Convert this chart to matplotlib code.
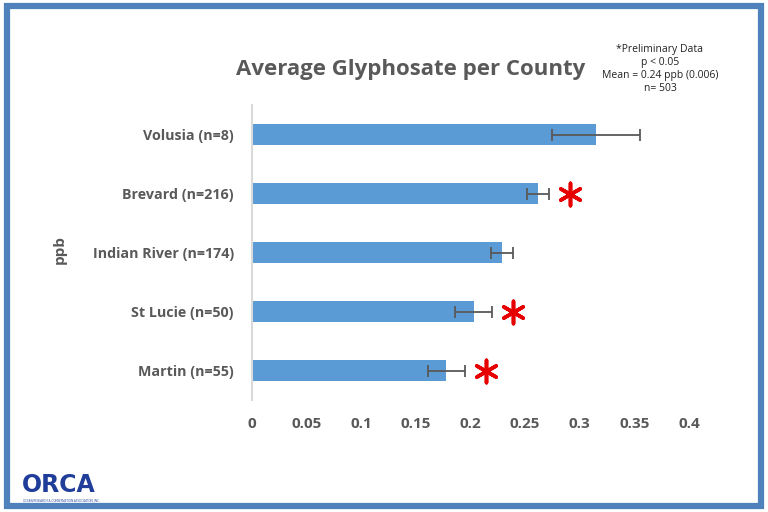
import matplotlib.pyplot as plt
from matplotlib.patches import Rectangle

counties = ["Volusia (n=8)", "Brevard (n=216)", "Indian River (n=174)",
            "St Lucie (n=50)", "Martin (n=55)"]
means = [0.315, 0.262, 0.229, 0.203, 0.178]
errs = [0.040, 0.010, 0.010, 0.017, 0.017]
signif = [False, True, False, True, True]
xticks = [0, 0.05, 0.1, 0.15, 0.2, 0.25, 0.3, 0.35, 0.4]
xtick_labels = ["0", "0.05", "0.1", "0.15", "0.2", "0.25", "0.3", "0.35", "0.4"]
note_lines = ["*Preliminary Data", "p < 0.05", "Mean = 0.24 ppb (0.006)", "n= 503"]

plt.rcParams["font.family"] = ["Open Sans", "DejaVu Sans"]
GRAY = "#595959"
BLUE = "#5b9bd5"

fig = plt.figure(figsize=(7.68, 5.12), dpi=100)
fig.patch.set_facecolor("white")

# blue frame around the slide
fig.add_artist(Rectangle((0.009, 0.012), 0.982, 0.976, transform=fig.transFigure,
                         fill=False, edgecolor="#4f81bd", linewidth=4.5))

ax = fig.add_axes([252 / 768, 1 - 400 / 512, (689 - 252) / 768, (400 - 105) / 512])

y = list(range(len(counties)))
ax.barh(y, means, height=0.35, color=BLUE, zorder=2)
ax.errorbar(means, y, xerr=errs, fmt="none", ecolor="#595959", elinewidth=1.3,
            capsize=4, capthick=1.3, zorder=3)
# significance asterisks
sx = [means[i] + errs[i] + 0.019 for i in range(len(means)) if signif[i]]
sy = [y[i] for i in range(len(means)) if signif[i]]
ax.scatter(sx, sy, marker=(6, 2, 0), s=260, color="#e60000", linewidths=2.6, zorder=4)

ax.set_ylim(len(counties) - 0.5, -0.5)
ax.set_xlim(0, 0.4)
ax.set_yticks(y)
ax.set_yticklabels(counties, fontsize=10.3, fontweight="bold", color=GRAY)
ax.set_xticks(xticks)
ax.set_xticklabels(xtick_labels, fontsize=11, fontweight="bold", color=GRAY)
ax.tick_params(axis="both", length=0)
ax.tick_params(axis="x", pad=12)
ax.tick_params(axis="y", pad=13)
for side in ["top", "right", "bottom"]:
    ax.spines[side].set_visible(False)
ax.spines["left"].set_color("#d9d9d9")
ax.spines["left"].set_linewidth(1.5)
ax.set_facecolor("none")

fig.text(411 / 768, 1 - 69 / 512, "Average Glyphosate per County", ha="center",
         va="center", fontsize=16, fontweight="bold", color=GRAY)
fig.text(60 / 768, 1 - 250 / 512, "ppb", rotation=90, ha="center", va="center",
         fontsize=11, fontweight="bold", color=GRAY)
fig.text(660 / 768, 1 - 69 / 512, "\n".join(note_lines), ha="center", va="center",
         fontsize=7.5, color="#222222", linespacing=1.25)

# logo
fig.text(22 / 768, 1 - 485 / 512, "ORCA", ha="left", va="center", fontsize=17,
         fontweight="bold", color="#1f3d99", family="DejaVu Sans")
fig.text(23 / 768, 1 - 500 / 512, "OCEAN RESEARCH & CONSERVATION ASSOCIATION, INC.",
         ha="left", va="center", fontsize=2.2, color="#1f3d99")

fig.savefig("out.png", dpi=100)
